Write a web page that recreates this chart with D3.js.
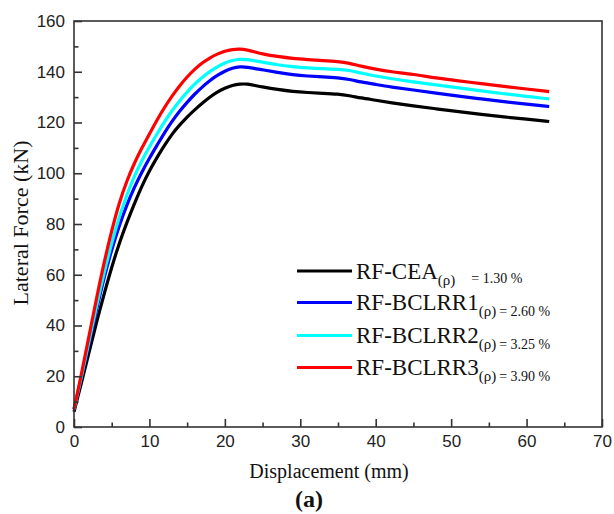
<!DOCTYPE html>
<html>
<head>
<meta charset="utf-8">
<script src="https://cdn.jsdelivr.net/npm/d3@7"></script>
<style>
  html, body { margin: 0; padding: 0; background: #fff; }
  svg { display: block; }
</style>
</head>
<body>
<svg id="chart" width="614" height="514"></svg>
<script>
// Lateral force vs. displacement envelopes for the four specimens
const displacement = [0, 1, 2, 3, 4, 5, 6, 7, 8, 9, 10, 11, 12, 13, 14, 15, 16, 17, 18, 19, 20, 21, 22, 23, 24, 25, 27, 29, 31, 33, 35, 36.5, 38, 40, 42, 45, 48, 51, 54, 57, 60, 63];

const forceCEA = [6, 17.5, 29.5, 41.5, 52.5, 63, 72.5, 80.5, 88, 95, 101, 106.2, 111, 115.5, 119, 122.2, 125, 127.6, 130, 132, 133.6, 134.7, 135.2, 135.2, 134.6, 134, 133, 132.2, 131.8, 131.5, 131.2, 130.6, 129.7, 128.8, 127.8, 126.5, 125.4, 124.3, 123.2, 122.2, 121.3, 120.4];
const forceBCLRR1 = [7, 19.5, 33, 46.5, 59, 70, 79.5, 87.5, 94.5, 100.5, 106, 111, 116, 120.5, 124.5, 128, 131.2, 134, 136.5, 138.6, 140.3, 141.5, 142, 141.8, 141.2, 140.8, 139.7, 138.8, 138.3, 138, 137.6, 137, 136, 135, 134, 132.8, 131.6, 130.4, 129.3, 128.2, 127.2, 126.3];
const forceBCLRR2 = [7, 20, 34, 48, 61, 72.5, 83, 91.5, 99, 105, 110.5, 115.5, 120.3, 124.7, 128.6, 132, 135.2, 137.8, 140.1, 142, 143.5, 144.5, 145, 144.8, 144.3, 143.8, 142.7, 142, 141.5, 141.2, 141, 140.6, 139.5, 138.3, 137.3, 136, 134.8, 133.6, 132.5, 131.3, 130.3, 129.3];
const forceBCLRR3 = [7, 21, 36, 51, 65, 77.5, 88.5, 97, 104, 110, 115.5, 121, 126, 130.5, 134.5, 138, 141, 143.5, 145.5, 147, 148.2, 148.8, 149, 148.6, 147.8, 147, 146, 145.2, 144.8, 144.4, 144, 143.4, 142.2, 141, 140, 139, 137.5, 136.4, 135.3, 134.2, 133.2, 132.2];

const seriesNames = ["RF-CEA", "RF-BCLRR1", "RF-BCLRR2", "RF-BCLRR3"];
const ratioLabels = ["= 1.30 %", "= 2.60 %", "= 3.25 %", "= 3.90 %"];
const seriesColors = ["#000000", "#0000ff", "#00ffff", "#ff0000"];
const seriesForces = [forceCEA, forceBCLRR1, forceBCLRR2, forceBCLRR3];

const xTicks = [0, 10, 20, 30, 40, 50, 60, 70];
const yTicks = [0, 20, 40, 60, 80, 100, 120, 140, 160];

const svg = d3.select("#chart");
const margin = { left: 74, right: 12, top: 21, bottom: 87 };
const W = 614, H = 514;
const x0 = margin.left, x1 = W - margin.right;
const y0 = H - margin.bottom, y1 = margin.top;

const x = d3.scaleLinear().domain([0, 70]).range([x0, x1]);
const y = d3.scaleLinear().domain([0, 160]).range([y0, y1]);

const axisColor = "#333";
const tickFont = "'Liberation Sans', Arial, sans-serif";
const serif = "'Liberation Serif', 'Times New Roman', serif";

// curves, drawn bottom to top so the red envelope sits on top
const line = d3.line()
  .x(d => x(d[0]))
  .y(d => y(d[1]))
  .curve(d3.curveBasis);

const curves = svg.append("g");
seriesForces.forEach((f, i) => {
  curves.append("path")
    .datum(displacement.map((d, k) => [d, f[k]]))
    .attr("fill", "none")
    .attr("stroke", seriesColors[i])
    .attr("stroke-width", 3.2)
    .attr("stroke-linejoin", "round")
    .attr("d", line);
});

// frame
svg.append("rect")
  .attr("x", x0).attr("y", y1)
  .attr("width", x1 - x0).attr("height", y0 - y1)
  .attr("fill", "none")
  .attr("stroke", axisColor)
  .attr("stroke-width", 1.6);

// bottom axis: inward ticks with minor ticks every 5 mm
const xAxis = d3.axisBottom(x).tickValues(xTicks).tickSize(-8).tickPadding(14).tickFormat(d3.format("d"));
const gx = svg.append("g").attr("transform", `translate(0,${y0})`).call(xAxis);
const xMinor = d3.axisBottom(x).tickValues(d3.range(5, 70, 10)).tickSize(-4.5).tickFormat("");
const gxm = svg.append("g").attr("transform", `translate(0,${y0})`).call(xMinor);

// left axis: inward ticks with minor ticks every 10 kN
const yAxis = d3.axisLeft(y).tickValues(yTicks).tickSize(-8).tickPadding(14).tickFormat(d3.format("d"));
const gy = svg.append("g").attr("transform", `translate(${x0},0)`).call(yAxis);
const yMinor = d3.axisLeft(y).tickValues(d3.range(10, 160, 20)).tickSize(-4.5).tickFormat("");
const gym = svg.append("g").attr("transform", `translate(${x0},0)`).call(yMinor);

[gx, gxm, gy, gym].forEach(g => {
  g.select(".domain").remove();
  g.selectAll(".tick line").attr("stroke", axisColor).attr("stroke-width", 1.6);
  g.selectAll(".tick text")
    .attr("fill", "#222")
    .style("font-family", tickFont)
    .style("font-size", "17px");
});
gy.selectAll(".tick text").attr("x", -9);
gx.selectAll(".tick text").attr("y", 8);

// axis titles
svg.append("text")
  .attr("x", 329)
  .attr("y", 478)
  .attr("text-anchor", "middle")
  .style("font-family", serif)
  .style("font-size", "20px")
  .attr("fill", "#111")
  .text("Displacement (mm)");

svg.append("text")
  .attr("transform", `translate(28,223) rotate(-90)`)
  .attr("text-anchor", "middle")
  .style("font-family", serif)
  .style("font-size", "22px")
  .attr("fill", "#111")
  .text("Lateral Force (kN)");

svg.append("text")
  .attr("x", 309)
  .attr("y", 507)
  .attr("text-anchor", "middle")
  .style("font-family", serif)
  .style("font-size", "24px")
  .style("font-weight", "bold")
  .attr("fill", "#111")
  .text("(a)");

// legend
const legend = svg.append("g");
const rowY = [271, 302.5, 335.5, 367.5];
seriesNames.forEach((name, i) => {
  const ry = rowY[i];
  legend.append("line")
    .attr("x1", 297).attr("x2", 352)
    .attr("y1", ry).attr("y2", ry)
    .attr("stroke", seriesColors[i])
    .attr("stroke-width", 3.2);
  const t = legend.append("text")
    .attr("x", 356)
    .attr("y", ry + 7.5)
    .style("font-family", serif)
    .attr("fill", "#111");
  t.append("tspan").style("font-size", "23px").text(name);
  t.append("tspan").style("font-size", "15px").attr("dy", 6).text("(ρ)");
  t.append("tspan").style("font-size", "14px")
    .attr("dx", i === 0 ? 16 : 3)
    .attr("dy", i === 0 ? -2 : 0)
    .text(ratioLabels[i]);
});
</script>
</body>
</html>
